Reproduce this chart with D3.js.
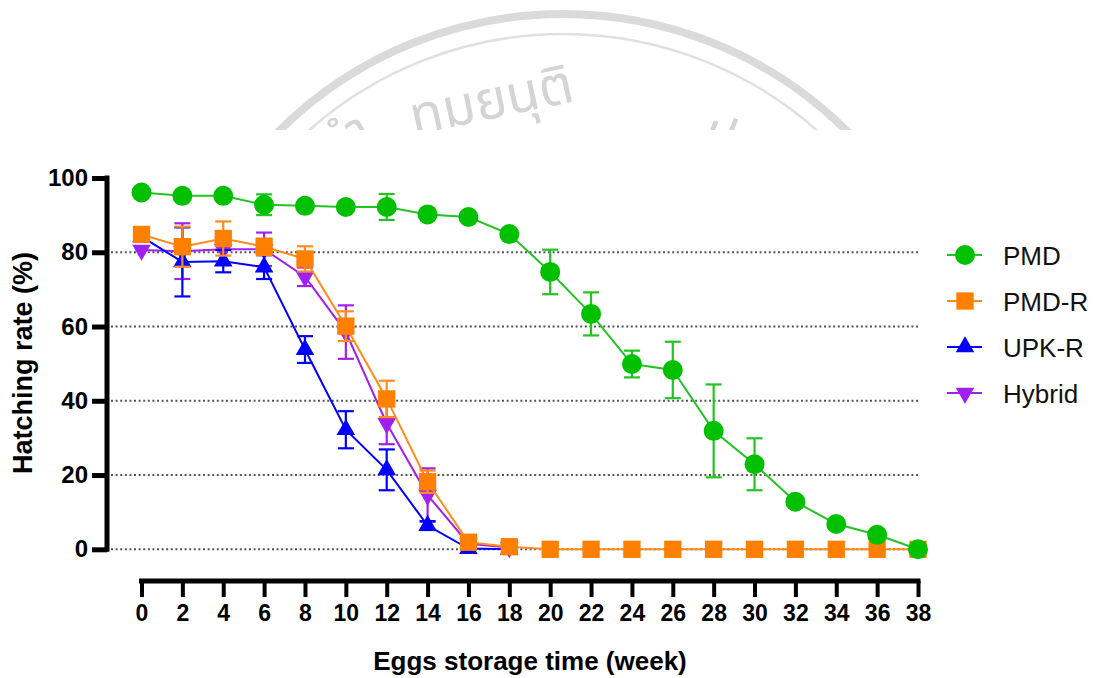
<!DOCTYPE html>
<html>
<head>
<meta charset="utf-8">
<script src="https://cdn.jsdelivr.net/npm/d3@7"></script>
<style>
  body { margin: 0; background: #fff; }
  svg { display: block; font-family: 'Liberation Sans', Arial, sans-serif; }
</style>
</head>
<body>
<div id="chart"></div>
<script>
const weeks = [0, 2, 4, 6, 8, 10, 12, 14, 16, 18, 20, 22, 24, 26, 28, 30, 32, 34, 36, 38]
const pmd = [96.1, 95.2, 95.2, 92.8, 92.5, 92.2, 92.2, 90.2, 89.5, 84.9, 74.7, 63.4, 49.9, 48.3, 31.9, 22.9, 12.8, 6.8, 3.9, 0]
const pmdErr = [0, 0, 0, 2.8, 0, 0, 3.5, 0, 0, 0, 6.0, 5.8, 3.6, 7.6, 12.5, 7.0, 0, 0, 0, 0]
const pmdR = [84.8, 81.5, 83.7, 81.5, 78.2, 60.1, 40.5, 18.2, 1.9, 0.7, 0, 0, 0, 0, 0, 0, 0, 0, 0, 0]
const pmdRErr = [0, 5.4, 4.6, 2.2, 3.4, 4.0, 4.9, 3.0, 0.5, 0, 0, 0, 0, 0, 0, 0, 0, 0, 0, 0]
const upkWeeks = [0, 2, 4, 6, 8, 10, 12, 14, 16, 18]
const upkR = [84.2, 77.4, 77.6, 76.0, 53.8, 32.2, 21.4, 6.4, 0.2, 0]
const upkRErr = [0, 9.3, 3.0, 3.2, 3.6, 5.0, 5.5, 1.2, 0, 0]
const hybrid = [80.6, 80.3, 80.8, 80.8, 73.4, 58.5, 33.9, 14.6, 1.5, 0.5]
const hybridErr = [0, 7.5, 0, 4.5, 2.5, 7.2, 5.6, 7.2, 0, 0]
const yTicks = [0, 20, 40, 60, 80, 100]
const xTicks = weeks

const series = [
  { name: 'Hybrid', x: upkWeeks, y: hybrid, err: hybridErr, color: '#a020f0', fill: '#a020f0', shape: 'down' },
  { name: 'UPK-R', x: upkWeeks, y: upkR, err: upkRErr, color: '#0000ff', fill: '#0000ff', shape: 'up' },
  { name: 'PMD-R', x: weeks, y: pmdR, err: pmdRErr, color: '#ff8c1a', fill: '#ff8000', shape: 'square' },
  { name: 'PMD', x: weeks, y: pmd, err: pmdErr, color: '#22c422', fill: '#00c000', shape: 'circle' }
]

const width = 1097
const height = 678

const svg = d3
  .select('#chart')
  .append('svg')
  .attr('width', width)
  .attr('height', height)

// faint watermark at the top, cut off where the chart begins
svg.append('clipPath').attr('id', 'wm-clip')
  .append('rect').attr('x', 0).attr('y', 0).attr('width', width).attr('height', 130)

const wm = svg.append('g').attr('clip-path', 'url(#wm-clip)')
const wmCx = 563
const wmCy = 417
const thaiFont = "'Noto Sans Thai', 'Noto Sans', 'DejaVu Sans', sans-serif"
wm.append('circle').attr('cx', wmCx).attr('cy', wmCy).attr('r', 403)
  .attr('fill', 'none').attr('stroke', '#dadada').attr('stroke-width', 8)
wm.append('circle').attr('cx', wmCx).attr('cy', wmCy).attr('r', 383)
  .attr('fill', 'none').attr('stroke', '#e0e0e0').attr('stroke-width', 2.5)

// main word, tilted a little as it runs along the ring
wm.append('text')
  .text('ทมยนุติ')
  .attr('transform', 'translate(495,118) rotate(-12)')
  .attr('text-anchor', 'middle')
  .attr('fill', '#d4d4d4')
  .style('font-size', '54px')
  .style('font-family', thaiFont)
// partial letters at each side
wm.append('text')
  .text('ทำ')
  .attr('transform', 'translate(352,152) rotate(-28)')
  .attr('text-anchor', 'middle')
  .attr('fill', '#d4d4d4')
  .style('font-size', '50px')
  .style('font-family', thaiFont)
wm.append('text')
  .text('ป')
  .attr('transform', 'translate(714,150) rotate(22)')
  .attr('text-anchor', 'middle')
  .attr('fill', '#d4d4d4')
  .style('font-size', '50px')
  .style('font-family', thaiFont)

const x = d3.scaleLinear().domain([0, 38]).range([141.5, 918])
const y = d3.scaleLinear().domain([0, 100]).range([549.3, 178])

// dotted grid lines
svg.append('g')
  .selectAll('line')
  .data(yTicks.filter(d => d < 100))
  .enter()
  .append('line')
  .attr('x1', 111)
  .attr('x2', x(38))
  .attr('y1', d => y(d))
  .attr('y2', d => y(d))
  .attr('stroke', '#555')
  .attr('stroke-width', 2)
  .attr('stroke-dasharray', '2,2.6')

// y axis
const yAxis = svg.append('g')
  .attr('transform', 'translate(107,0)')
  .call(d3.axisLeft(y).tickValues(yTicks).tickSize(15).tickPadding(4))
yAxis.select('.domain').attr('stroke', '#000').attr('stroke-width', 5)
  .attr('d', `M0,${y(100) - 2.5}V${y(0) + 2.5}`)
yAxis.selectAll('.tick line').attr('stroke', '#000').attr('stroke-width', 5)
yAxis.selectAll('.tick text')
  .attr('fill', '#000')
  .style('font-size', '24px')
  .style('font-weight', 'bold')
  .style('font-family', "'Liberation Sans', Arial, sans-serif")

// x axis, offset below the plot
const xAxis = svg.append('g')
  .attr('transform', 'translate(0,581)')
  .call(d3.axisBottom(x).tickValues(xTicks).tickSize(16).tickPadding(8))
xAxis.select('.domain').attr('stroke', '#000').attr('stroke-width', 5)
  .attr('d', `M${x(0) - 2.5},0H${x(38) + 2.5}`)
xAxis.selectAll('.tick line').attr('stroke', '#000').attr('stroke-width', 4)
xAxis.selectAll('.tick text')
  .attr('fill', '#000')
  .style('font-size', '23px')
  .style('font-weight', 'bold')
  .style('font-family', "'Liberation Sans', Arial, sans-serif")

// axis titles
svg.append('text')
  .text('Eggs storage time (week)')
  .attr('x', 530)
  .attr('y', 670)
  .attr('text-anchor', 'middle')
  .style('font-size', '26px')
  .style('font-weight', 'bold')

svg.append('text')
  .text('Hatching rate (%)')
  .attr('transform', 'translate(32,363) rotate(-90)')
  .attr('text-anchor', 'middle')
  .style('font-size', '27px')
  .style('font-weight', 'bold')

function markerPath(shape) {
  if (shape === 'circle') return d3.symbol().type(d3.symbolCircle).size(Math.PI * 100)()
  if (shape === 'square') return d3.symbol().type(d3.symbolSquare).size(300)()
  return d3.symbol().type(d3.symbolTriangle).size(150)()
}

const line = d3.line()
  .x(d => x(d.x))
  .y(d => y(d.y))

series.forEach(function(s) {
  const points = s.x.map((wk, i) => ({ x: wk, y: s.y[i], err: s.err[i] }))
  const g = svg.append('g')

  g.append('path')
    .datum(points)
    .attr('d', line)
    .attr('fill', 'none')
    .attr('stroke', s.color)
    .attr('stroke-width', 2)

  const bars = g.selectAll('.err')
    .data(points.filter(d => d.err > 0))
    .enter()
    .append('g')
  bars.append('line')
    .attr('x1', d => x(d.x)).attr('x2', d => x(d.x))
    .attr('y1', d => y(d.y + d.err)).attr('y2', d => y(d.y - d.err))
  bars.append('line')
    .attr('x1', d => x(d.x) - 8).attr('x2', d => x(d.x) + 8)
    .attr('y1', d => y(d.y + d.err)).attr('y2', d => y(d.y + d.err))
  bars.append('line')
    .attr('x1', d => x(d.x) - 8).attr('x2', d => x(d.x) + 8)
    .attr('y1', d => y(d.y - d.err)).attr('y2', d => y(d.y - d.err))
  bars.selectAll('line').attr('stroke', s.color).attr('stroke-width', 2.2)

  g.selectAll('.mark')
    .data(points)
    .enter()
    .append('path')
    .attr('d', markerPath(s.shape))
    .attr('transform', d => `translate(${x(d.x)},${y(d.y)})` + (s.shape === 'down' ? ' rotate(180)' : ''))
    .attr('fill', s.fill)
})

// legend
const legendNames = ['PMD', 'PMD-R', 'UPK-R', 'Hybrid']
const legend = svg.append('g')
legendNames.forEach(function(name, i) {
  const s = series.find(d => d.name === name)
  const ly = 255 + i * 46
  legend.append('line')
    .attr('x1', 947).attr('x2', 982)
    .attr('y1', ly).attr('y2', ly)
    .attr('stroke', s.color).attr('stroke-width', 2)
  legend.append('path')
    .attr('d', markerPath(s.shape))
    .attr('transform', `translate(965,${ly})` + (s.shape === 'down' ? ' rotate(180)' : ''))
    .attr('fill', s.fill)
  legend.append('text')
    .text(name)
    .attr('x', 1003)
    .attr('y', ly + 9.5)
    .style('font-size', '26px')
    .attr('fill', '#111')
})
</script>
</body>
</html>
